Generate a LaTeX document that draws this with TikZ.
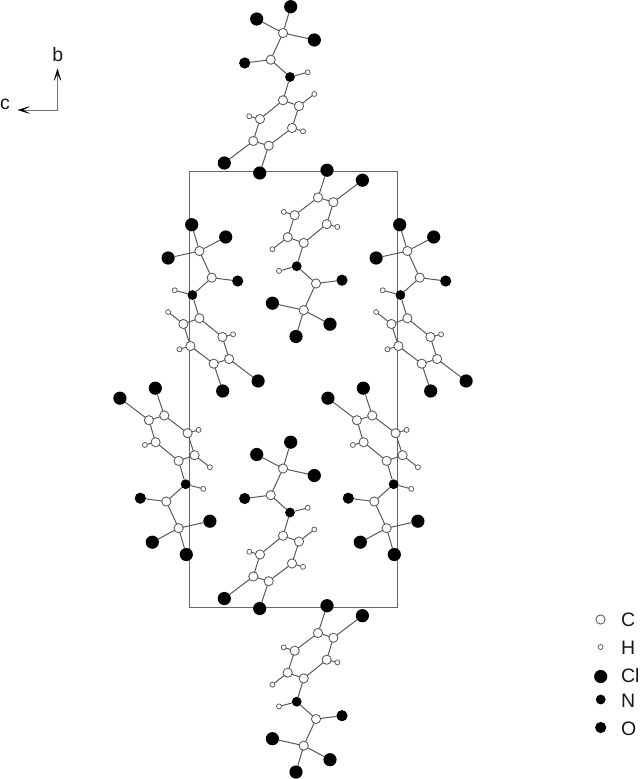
\documentclass[tikz,border=0pt]{standalone}
\usepackage{fontspec}
\setmainfont{Liberation Sans}
\usetikzlibrary{arrows.meta}
\tikzset{
  x=1pt,y=1pt,
  atomC/.style={circle,draw=black!65,fill=white,line width=0.85pt,minimum size=9.2pt,inner sep=0pt,outer sep=0pt},
  atomH/.style={circle,draw=black!65,fill=white,line width=0.75pt,minimum size=5pt,inner sep=0pt,outer sep=0pt},
  atomCl/.style={circle,fill=black,minimum size=13.2pt,inner sep=0pt,outer sep=0pt},
  atomN/.style={circle,fill=black,minimum size=9.8pt,inner sep=0pt,outer sep=0pt},
  atomO/.style={circle,fill=black,minimum size=11.2pt,inner sep=0pt,outer sep=0pt},
  bondline/.style={draw=black!65,line width=1pt},
  cellbox/.style={draw=black!60,line width=1pt,inner sep=0pt,outer sep=0pt,minimum width=208pt,minimum height=435.5pt,anchor=north west},
  axisline/.style={draw=black!55,line width=1pt},
  tiparrow/.style={-{Stealth[length=14pt,width=8.5pt,inset=8.5pt,line width=0.4pt,black]}},
  lab/.style={inner sep=0pt,outer sep=0pt,font=\fontsize{19.5}{22}\selectfont,text=black!90},
}
\newcommand{\atomat}[5]{\node[#2] (\mpfx#1) at ({#3*\msx+\mtx},{-(#4*\msy+\mty)}) {};}
\newcommand{\molecule}[5]{%
  \def\mpfx{#1}\def\msx{#2}\def\msy{#3}\def\mtx{#4}\def\mty{#5}%
  \atomat{c1}{atomC}{283}{33}{}\atomat{c2}{atomC}{270.7}{59.7}{}
  \atomat{c3}{atomC}{283}{100.3}{}\atomat{c4}{atomC}{299}{106}{}
  \atomat{c5}{atomC}{292}{128}{}\atomat{c6}{atomC}{268.7}{145.7}{}
  \atomat{c7}{atomC}{253.3}{141}{}\atomat{c8}{atomC}{260}{119}{}
  \atomat{cla}{atomCl}{290.7}{6.7}{}\atomat{clb}{atomCl}{256.7}{19}{}
  \atomat{clc}{atomCl}{314.3}{40}{}\atomat{cld}{atomCl}{224.3}{163}{}
  \atomat{cle}{atomCl}{259.7}{173}{}
  \atomat{o}{atomO}{244.7}{63}{}\atomat{n}{atomN}{290}{77}{}
  \atomat{hn}{atomH}{307.7}{72.3}{}\atomat{ha}{atomH}{314.3}{94}{}
  \atomat{hb}{atomH}{303}{131.3}{}\atomat{hc}{atomH}{249.3}{116.3}{}
  \foreach \a/\b in {cla/c1,clb/c1,clc/c1,c1/c2,c2/o,c2/n,n/hn,n/c3,c3/c4,c4/ha,c4/c5,c5/hb,c5/c6,c6/c7,c7/c8,c8/hc,c8/c3,c7/cld,c6/cle}
    {\draw[bondline] (\mpfx\a) -- (\mpfx\b);}
}
\begin{document}
\begin{tikzpicture}
\useasboundingbox (0,0) rectangle (640,-779);
\node[cellbox] (cell) at (189.5,-171.5) {};
% axes
\coordinate (origin) at (57.5,-110);
\coordinate (bend) at (57.5,-68.5);
\coordinate (cend) at (17.5,-110);
\draw[axisline,tiparrow] (origin) -- (bend);
\draw[axisline,tiparrow] (origin) -- (cend);
\node[lab,anchor=base] (bl) at (57.7,-61) {b};
\node[lab,anchor=base west] (cl) at (0,-109.5) {c};
% molecules
\molecule{pa}{1}{1}{0}{0}
\molecule{pb}{1}{1}{0}{435.5}
\molecule{qa}{-1}{-1}{586.7}{343.2}
\molecule{qb}{-1}{-1}{586.7}{778.7}
\molecule{ra}{-1}{1}{482.4}{218}
\molecule{rb}{-1}{1}{690.4}{218}
\molecule{sa}{1}{-1}{-104.4}{561.2}
\molecule{sb}{1}{-1}{103.6}{561.2}
% legend
\node[atomC] (lc) at (600.5,-619.5) {};
\node[atomH] (lh) at (600.5,-647) {};
\node[atomCl] (lcl) at (600.7,-676.5) {};
\node[atomN] (ln) at (600.7,-699.5) {};
\node[atomO] (lo) at (600.7,-727.5) {};
\node[lab,anchor=base west] (tc) at (621,-626.7) {C};
\node[lab,anchor=base west] (th) at (621,-654) {H};
\node[lab,anchor=base west] (tcl) at (621,-682.7) {Cl};
\node[lab,anchor=base west] (tn) at (621,-707.7) {N};
\node[lab,anchor=base west] (to) at (621,-735.7) {O};
\end{tikzpicture}
\end{document}
